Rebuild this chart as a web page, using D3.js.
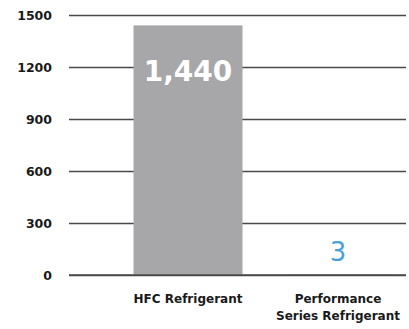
<!DOCTYPE html>
<html>
<head>
<meta charset="utf-8">
<script src="https://cdn.jsdelivr.net/npm/d3@7"></script>
<style>
  html, body { margin: 0; padding: 0; background: #fff; }
  svg { display: block; }
</style>
</head>
<body>
<svg id="chart" width="409" height="329"></svg>
<script>
// Chart data
const categories = ["HFC Refrigerant", "Performance\nSeries Refrigerant"];
const values = [1440, 3];
const valueLabels = ["1,440", "3"];
const tickValues = [0, 300, 600, 900, 1200, 1500];

const svg = d3.select("#chart");
const font = "'DejaVu Sans', sans-serif";

const y = d3.scaleLinear().domain([0, 1500]).range([275, 15]);
const x = d3.scaleBand().domain(categories).range([113, 413])
  .paddingInner(0.2733).paddingOuter(0.1367);

// Horizontal gridlines with value labels
const yAxis = d3.axisLeft(y).tickValues(tickValues).tickSize(-337).tickPadding(17)
  .tickFormat(d3.format("d"));
const gAxis = svg.append("g").attr("transform", "translate(69,0)").call(yAxis);
gAxis.select(".domain").remove();
gAxis.selectAll(".tick line").attr("stroke", "#4a4a4a").attr("stroke-width", 1.5);
gAxis.selectAll(".tick text")
  .style("font-family", font).style("font-weight", "bold").style("font-size", "12.5px")
  .attr("fill", "#1a1a1a");

// Bars
svg.append("g").selectAll("rect").data(values).join("rect")
  .attr("x", (d, i) => x(categories[i]))
  .attr("width", x.bandwidth())
  .attr("y", d => y(d))
  .attr("height", d => y(0) - y(d))
  .attr("fill", "#a7a7aa");

// Baseline drawn over the bars
svg.append("line")
  .attr("x1", 69).attr("x2", 406)
  .attr("y1", y(0)).attr("y2", y(0))
  .attr("stroke", "#4a4a4a").attr("stroke-width", 1.5);

// Value labels
svg.append("text")
  .attr("x", x(categories[0]) + x.bandwidth() / 2)
  .attr("y", 81)
  .attr("text-anchor", "middle")
  .style("font-family", font).style("font-weight", "bold").style("font-size", "28px")
  .attr("fill", "#fff")
  .text(valueLabels[0]);

svg.append("text")
  .attr("x", x(categories[1]) + x.bandwidth() / 2)
  .attr("y", 261)
  .attr("text-anchor", "middle")
  .style("font-family", font).style("font-size", "26px")
  .attr("fill", "#4a9fd6")
  .text(valueLabels[1]);

// Category labels
const gCat = svg.append("g");
categories.forEach(c => {
  const t = gCat.append("text")
    .attr("text-anchor", "middle")
    .style("font-family", font).style("font-weight", "bold").style("font-size", "12px")
    .attr("fill", "#1a1a1a");
  c.split("\n").forEach((line, j) => {
    t.append("tspan")
      .attr("x", x(c) + x.bandwidth() / 2)
      .attr("y", 303 + j * 17)
      .text(line);
  });
});
</script>
</body>
</html>
